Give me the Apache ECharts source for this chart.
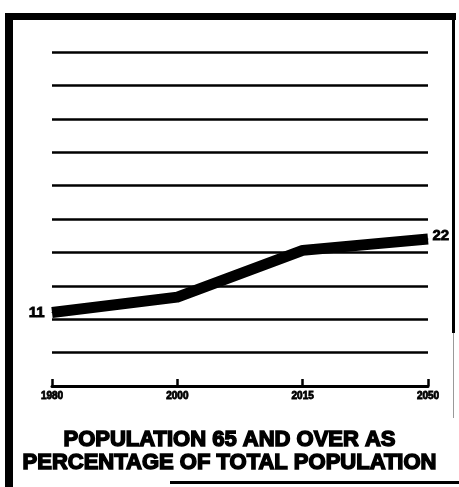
<!DOCTYPE html>
<html>
<head>
<meta charset="utf-8">
<script src="https://cdn.jsdelivr.net/npm/echarts@6/dist/echarts.min.js"></script>
<style>
html,body{margin:0;padding:0;background:#fff;}
#chart{width:459px;height:487px;}
</style>
</head>
<body>
<div id="chart"></div>
<script>
var years = ['1980', '2000', '2015', '2050'];
var share65 = [11, 13.3, 20.3, 22];
var pointLabels = ['11', '', '', '22'];
var titleLines = ['POPULATION 65 AND OVER AS', 'PERCENTAGE OF TOTAL POPULATION'];

var chart = echarts.init(document.getElementById('chart'));
var seriesData = share65.map(function (v, i) {
  var d = { value: v };
  if (i === 0) d.label = { show: true, position: 'left', distance: 7 };
  if (i === share65.length - 1) d.label = { show: true, position: 'right', distance: 4, offset: [0, -3] };
  return d;
});
chart.setOption({
  animation: false,
  backgroundColor: '#fff',
  grid: { left: 52, right: 31, top: 52, bottom: 101 },
  xAxis: {
    type: 'category',
    data: years,
    boundaryGap: false,
    axisLine: { lineStyle: { color: '#000', width: 3 } },
    axisTick: { inside: true, length: 7, lineStyle: { color: '#000', width: 2.5 } },
    axisLabel: { color: '#000', fontSize: 10, fontWeight: 'bold', fontFamily: 'Liberation Sans', margin: 5, textBorderColor: '#000', textBorderWidth: 0.8 },
    splitLine: { show: false }
  },
  yAxis: {
    type: 'value',
    min: 0, max: 50, interval: 5,
    axisLine: { show: false },
    axisTick: { show: false },
    axisLabel: { show: false },
    splitLine: { lineStyle: { color: '#000', width: 2.5 } }
  },
  series: [{
    type: 'line',
    data: seriesData,
    showSymbol: true,
    symbol: 'circle',
    symbolSize: 1,
    itemStyle: { color: '#000' },
    lineStyle: { color: '#000', width: 11, cap: 'butt', join: 'round' },
    label: {
      show: false,
      color: '#000', fontSize: 15, fontWeight: 'bold', fontFamily: 'Liberation Sans',
      textBorderColor: '#000', textBorderWidth: 0.8,
      formatter: function (p) { return pointLabels[p.dataIndex]; }
    }
  }],
  graphic: [
    { type: 'rect', shape: { x: 5, y: 13, width: 451, height: 7 }, style: { fill: '#000' } },
    { type: 'rect', shape: { x: 5, y: 13, width: 8, height: 474 }, style: { fill: '#000' } },
    { type: 'rect', shape: { x: 452, y: 13, width: 3, height: 320 }, style: { fill: '#000' } },
    { type: 'rect', shape: { x: 453, y: 333, width: 1, height: 85 }, style: { fill: '#999' } },
    { type: 'rect', shape: { x: 170, y: 481, width: 289, height: 3 }, style: { fill: '#000' } },
    { type: 'text', left: 'center', top: 428, style: { text: titleLines[0], fill: '#000', stroke: '#000', lineWidth: 1.5, font: '900 22px "Liberation Sans"' } },
    { type: 'text', left: 'center', top: 451, style: { text: titleLines[1], fill: '#000', stroke: '#000', lineWidth: 1.5, font: '900 22px "Liberation Sans"' } }
  ]
});
</script>
</body>
</html>
